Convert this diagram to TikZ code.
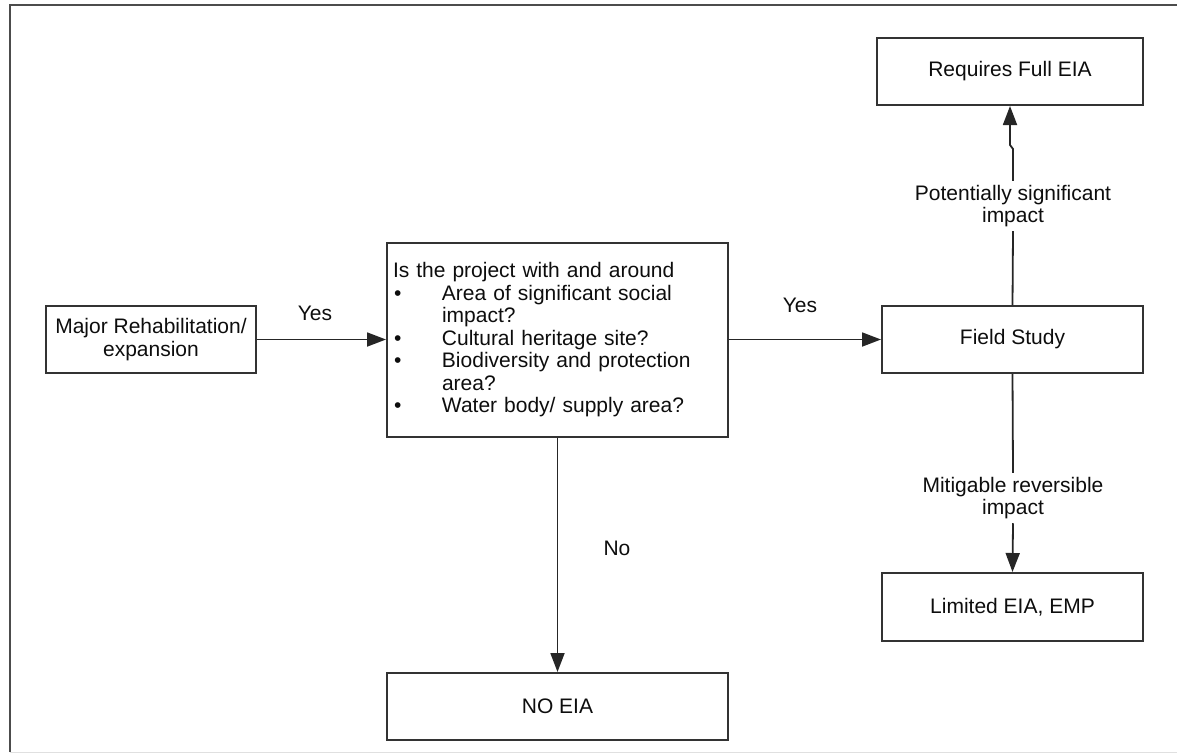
\documentclass[tikz,border=0pt]{standalone}
\usepackage{fontspec}
\setmainfont{Liberation Sans}
\usepackage{xcolor}
\usepackage{tikz}
\usetikzlibrary{arrows.meta}
\usetikzlibrary{calc}
\tikzstyle{block} = [draw=black!80, line width=2pt, inner sep=6pt, align=center, text=black!95, font=\fontsize{21}{22.5}\selectfont]
\tikzstyle{lbl} = [inner sep=4pt, align=center, text=black!95, font=\fontsize{21}{22.5}\selectfont]
\tikzstyle{link} = [line width=1.8pt, draw=black!85]
\tikzstyle{flow} = [link, -{Triangle[length=19pt, width=14pt]}]
\newcommand{\bitem}[1]{\makebox[49pt][l]{\hspace{1pt}\textbullet}#1}

\begin{document}
\begin{tikzpicture}[x=1pt, y=-1pt]

	\useasboundingbox (0,0) rectangle (1177,753) ;
	\draw[line width=2.5pt, black!70] (10,752) -- (10,5) -- (1177,5) ;
	\draw[line width=1pt, black!12] (10,752) -- (1177,752) ;

	\node[block, minimum width=210pt, minimum height=67pt] (major) at (151, 339.5) {Major Rehabilitation/\\expansion} ;
	\node[block, text width=329pt, minimum height=194pt, align=left] (check) at (557.5, 340) {Is the project with and around\\
		\bitem{Area of significant social}\\
		\hspace*{49pt}impact?\\
		\bitem{Cultural heritage site?}\\
		\bitem{Biodiversity and protection}\\
		\hspace*{49pt}area?\\
		\bitem{Water body/ supply area?}} ;
	\node[block, minimum width=341pt, minimum height=67pt] (noeia) at (557.5, 706.5) {NO EIA} ;
	\node[block, minimum width=261pt, minimum height=67pt] (field) at (1012.5, 339.5) {Field Study} ;
	\node[block, minimum width=266pt, minimum height=67pt] (full) at (1010, 71.5) {Requires Full EIA} ;
	\node[block, minimum width=261pt, minimum height=68pt] (limited) at (1012.5, 607) {Limited EIA, EMP} ;

	\node[lbl] (yes1) at (315, 313) {Yes} ;
	\node[lbl] (yes2) at (800, 305) {Yes} ;
	\node[lbl] (no) at (617, 548) {No} ;
	\node[lbl] (signif) at (1013, 206) {Potentially significant\\impact} ;
	\node[lbl] (mitig) at (1013, 498) {Mitigable reversible\\impact} ;

	\coordinate (jog1) at (1013, 149) ;
	\coordinate (jog2) at (1010, 145) ;

	\draw[flow] (major.east) -- (major.east -| check.west) ;
	\draw[flow] (check.east |- field.west) -- (field.west) ;
	\draw[flow] (check.south) -- (noeia.north) ;
	\draw[link] (field.north) -- (signif.south) ;
	\draw[flow] (signif.north) -- (jog1) -- (jog2) -- (full.south -| jog2) ;
	\draw[link] (field.south) -- (mitig.north) ;
	\draw[flow] (mitig.south) -- (limited.north) ;
\end{tikzpicture}
\end{document}
